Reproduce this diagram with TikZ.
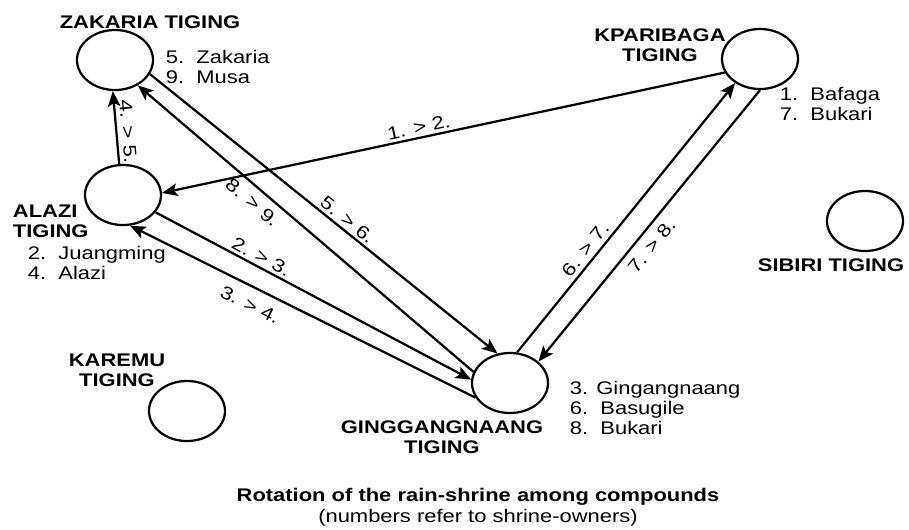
\documentclass[tikz,border=0pt]{standalone}
\usepackage{fontspec}
\setmainfont{Liberation Sans}[FakeStretch=1.2]
\usetikzlibrary{arrows.meta, shapes.geometric}

\begin{document}
\begin{tikzpicture}[x=0.025cm, y=-0.025cm,
  >={Stealth[length=11pt, width=9pt, inset=2.5pt]},
  shrine/.style={ellipse, draw, line width=1.6pt, minimum width=1.9cm,
    minimum height=1.5cm, inner sep=0pt},
  move/.style={->, line width=1.6pt},
  turn/.style={sloped, font=\fontsize{13}{15}\selectfont, inner sep=2pt},
  place/.style={font=\fontsize{13}{14.5}\selectfont\bfseries, align=center},
  owners/.style={font=\fontsize{13}{14}\selectfont, align=left, anchor=west}]

\useasboundingbox (0,0) rectangle (909,529);

% Compounds
\node[shrine] (zak) at (115,60) {};
\node[shrine] (ala) at (123,195) {};
\node[shrine] (kpa) at (760,59) {};
\node[shrine] (sib) at (865,221) {};
\node[shrine] (kar) at (187,411) {};
\node[shrine] (gin) at (510,383) {};

% Compound names
\node[place] (zakname) at (150,22) {ZAKARIA TIGING};
\node[place] (kpaname) at (660,45) {KPARIBAGA\\TIGING};
\node[place, align=left, anchor=west] (alaname) at (8,221) {ALAZI\\TIGING};
\node[place] (sibname) at (831,265) {SIBIRI TIGING};
\node[place] (karname) at (117,370) {KAREMU\\TIGING};
\node[place] (ginname) at (442,437) {GINGGANGNAANG\\TIGING};

% Shrine-owners
\node[owners] (zakown) at (161,67) {5.~~Zakaria\\9.~~Musa};
\node[owners] (kpaown) at (775,104) {1.~~Bafaga\\7.~~Bukari};
\node[owners] (alaown) at (23,263) {2.~~Juangming\\4.~~Alazi};
\node[owners] (ginown) at (565,408) {3. Gingangnaang\\6.~~Basugile\\8.~~Bukari};

% --- Rotation of the shrine ---
\draw[move] (kpa.201) -- node[turn, pos=0.54, above] {1. > 2.} (ala.3);
\draw[move] (ala.-28) -- node[turn, pos=0.32, above] {2. > 3.} (gin.175);
\draw[move] (gin.203) -- node[turn, pos=0.63, below=5pt] {3. > 4.} (ala.283);
\draw[move] (ala.97) -- node[turn, pos=0.43, above=1pt] {4. > 5.} (zak.266);
\draw[move] (zak.-22) -- node[turn, pos=0.55, above] {5. > 6.} (gin.113);
\draw[move] (gin.77) -- node[turn, pos=0.355, above=1pt] {6. > 7.} (kpa.224);
\draw[move] (kpa.270) -- node[turn, pos=0.54, below=3pt] {7. > 8.} (gin.37);
\draw[move] (gin.163) -- node[turn, pos=0.63, below=3pt] {8. > 9.} (zak.-48);

% Caption
\node[place] (cap) at (478,497) {Rotation of the rain-shrine among compounds};
\node[font=\fontsize{13}{15}\selectfont] (capsub) at (478,518)
  {(numbers refer to shrine-owners)};

\end{tikzpicture}
\end{document}
